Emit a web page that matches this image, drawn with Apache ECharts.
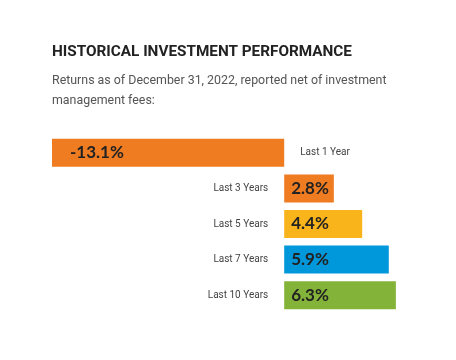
<!DOCTYPE html>
<html><head><meta charset="utf-8">
<script src="https://cdn.jsdelivr.net/npm/echarts@6/dist/echarts.min.js"></script>
<style>html,body{margin:0;padding:0;background:#fff}#c{width:456px;height:360px}</style>
</head><body><div id="c"></div>
<script>
var categories = ['Last 1 Year', 'Last 3 Years', 'Last 5 Years', 'Last 7 Years', 'Last 10 Years'];
var returns = [-13.1, 2.8, 4.4, 5.9, 6.3];
var colors = ['#F07C22', '#F07C22', '#F9B31B', '#0097DB', '#84B33A'];
var titleText = 'HISTORICAL INVESTMENT PERFORMANCE';
var subText = 'Returns as of December 31, 2022, reported net of investment\nmanagement fees:';

var chart = echarts.init(document.getElementById('c'), null, {renderer: 'canvas'});
var condensed = 'Roboto, sans-serif';
chart.setOption({
  animation: false,
  title: {
    text: titleText, subtext: subText, left: 47, top: 40, itemGap: 11,
    textStyle: {fontFamily: condensed, fontWeight: 'bold', fontSize: 15.3, color: '#222'},
    subtextStyle: {fontFamily: condensed, fontSize: 12.4, color: '#555', lineHeight: 20}
  },
  grid: {left: 52, right: 30, top: 135, bottom: 47},
  xAxis: {type: 'value', min: -13.1, max: 8, show: false},
  yAxis: {type: 'category', data: categories, inverse: true, show: false},
  series: [
    {
      type: 'bar', barWidth: 28,
      data: returns.map(function (v, i) {
        return {value: v, itemStyle: {color: colors[i]}, label: {distance: v < 0 ? 18 : 7}};
      }),
      label: {
        show: true, position: 'insideLeft',
        formatter: function (p) { return p.value + '%'; },
        fontFamily: 'Lato, "Noto Sans", sans-serif', fontWeight: 'bold', fontSize: 17, color: '#222'
      }
    },
    {
      type: 'bar', barWidth: 28, barGap: '-100%', silent: true,
      data: returns.map(function (v, i) {
        return {value: v, itemStyle: {color: 'rgba(0,0,0,0)'},
          label: {position: v < 0 ? 'right' : 'left'}};
      }),
      label: {
        show: true, distance: 16,
        formatter: function (p) { return p.name; },
        fontFamily: condensed, fontSize: 10, color: '#444'
      }
    }
  ]
});
</script></body></html>
